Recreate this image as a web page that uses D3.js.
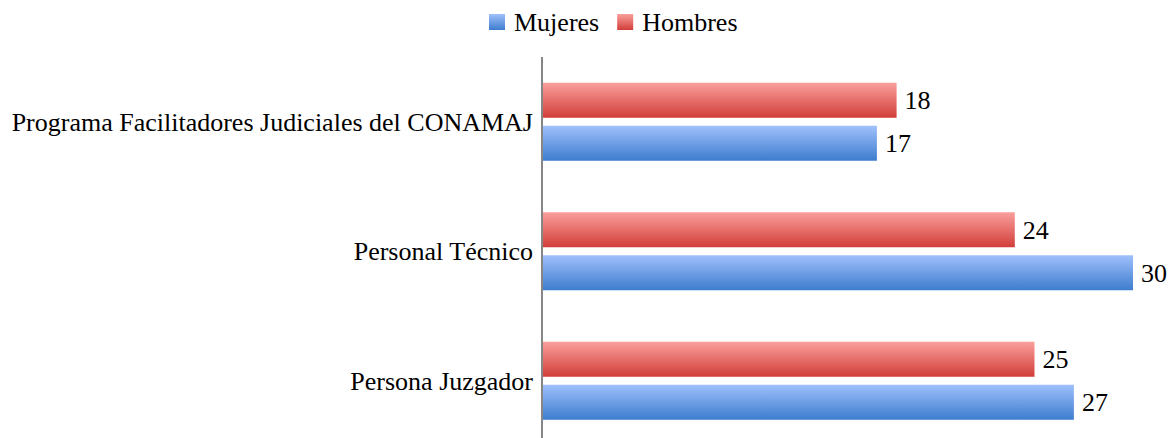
<!DOCTYPE html>
<html>
<head>
<meta charset="utf-8">
<script src="https://cdn.jsdelivr.net/npm/d3@7"></script>
<style>
  body { margin: 0; background: #fff; }
  text { font-family: "Liberation Serif", serif; fill: #000; }
</style>
</head>
<body>
<script>
const width = 1169, height = 438;
const margin = {top: 57, left: 542, right: 36};
const fontSize = "26px";

const categories = ["Programa Facilitadores Judiciales del CONAMAJ", "Personal Técnico", "Persona Juzgador"];
const seriesNames = ["Hombres", "Mujeres"];
const hombres = [18, 24, 25];
const mujeres = [17, 30, 27];
const legendOrder = ["Mujeres", "Hombres"];

const values = {Hombres: hombres, Mujeres: mujeres};
const gradIds = {Hombres: "g-red", Mujeres: "g-blue"};

var svg = d3.select("body").append("svg")
    .attr("width", width)
    .attr("height", height);

var defs = svg.append("defs");
function addGrad(id, top, bottom) {
    var g = defs.append("linearGradient").attr("id", id)
        .attr("x1", "0%").attr("y1", "0%").attr("x2", "0%").attr("y2", "100%");
    g.append("stop").attr("offset", "0%").attr("stop-color", top);
    g.append("stop").attr("offset", "100%").attr("stop-color", bottom);
}
addGrad("g-red", "#fa9f9c", "#d23e39");
addGrad("g-blue", "#a0c0fc", "#3d7dce");

var xScale = d3.scaleLinear().domain([0, 30]).range([margin.left, 1133]);
var yScale = d3.scaleBand().domain(categories).range([margin.top, margin.top + 3 * 129.5]);
var inner = d3.scaleBand().domain(seriesNames)
    .range([25.75, 103.75]).paddingInner(8 / 43);

var groups = svg.selectAll("g.cat")
    .data(categories)
    .enter().append("g")
    .attr("class", "cat")
    .attr("transform", function(d) { return "translate(0," + yScale(d) + ")"; });

groups.each(function(cat, i) {
    var g = d3.select(this);
    seriesNames.forEach(function(s) {
        var v = values[s][i];
        g.append("rect")
            .attr("x", xScale(0) + 1)
            .attr("y", inner(s))
            .attr("width", xScale(v) - xScale(0) - 1)
            .attr("height", inner.bandwidth())
            .attr("fill", "url(#" + gradIds[s] + ")");
        g.append("text")
            .attr("x", xScale(v) + 8)
            .attr("y", inner(s) + inner.bandwidth() / 2)
            .attr("dy", "0.35em")
            .style("font-size", fontSize)
            .text(v);
    });
    g.append("text")
        .attr("x", 533)
        .attr("y", yScale.bandwidth() / 2)
        .attr("dy", "0.35em")
        .attr("text-anchor", "end")
        .style("font-size", fontSize)
        .text(cat);
});

// vertical category axis line
svg.append("line")
    .attr("x1", margin.left).attr("x2", margin.left)
    .attr("y1", margin.top).attr("y2", margin.top + 3 * 129.5)
    .attr("stroke", "#868686").attr("stroke-width", 2);

// legend
var legend = svg.append("g").attr("class", "legend");
var lx = 489;
legendOrder.forEach(function(s) {
    legend.append("rect")
        .attr("x", lx).attr("y", 14)
        .attr("width", 16).attr("height", 16)
        .attr("fill", "url(#" + gradIds[s] + ")");
    var t = legend.append("text")
        .attr("x", lx + 25).attr("y", 22)
        .attr("dy", "0.35em")
        .style("font-size", fontSize)
        .text(s);
    lx += 25 + t.node().getComputedTextLength() + 18;
});
</script>
</body>
</html>
